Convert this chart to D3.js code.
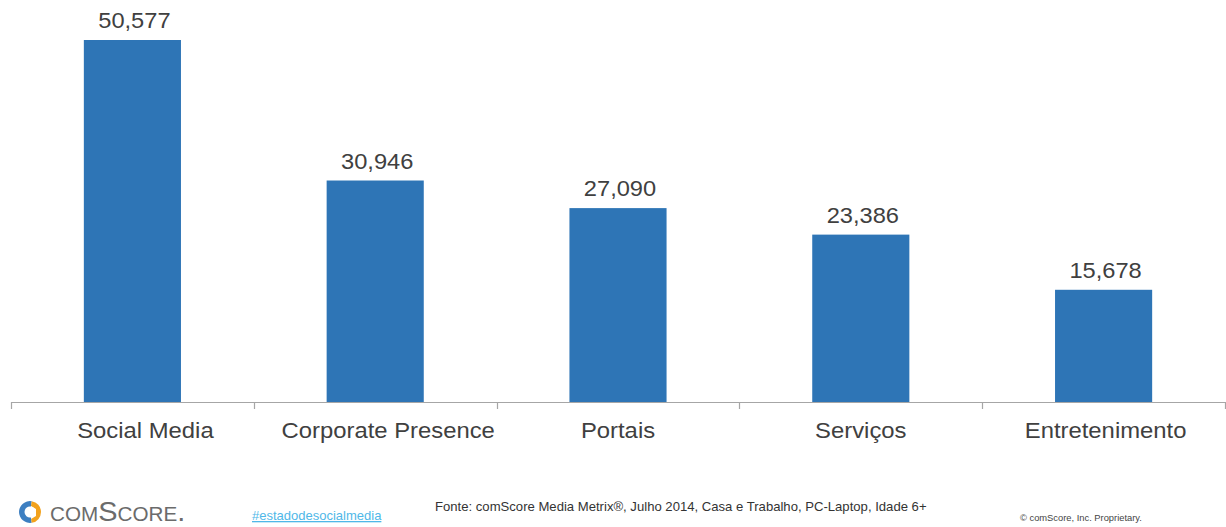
<!DOCTYPE html>
<html>
<head>
<meta charset="utf-8">
<script src="https://cdn.jsdelivr.net/npm/d3@7"></script>
<style>
  html, body { margin: 0; padding: 0; background: #fff; }
  svg { display: block; }
</style>
</head>
<body>
<svg id="chart" width="1226" height="527"></svg>
<script>
// Visitors by site category
const categories = ["Social Media", "Corporate Presence", "Portais", "Serviços", "Entretenimento"];
const values = [50577, 30946, 27090, 23386, 15678];

// horizontal nudge of each category label relative to its bar centre
const labelShift = [13, 13, 0, 0, 2];

const width = 1226, height = 527;
const svg = d3.select("#chart");
const FONT = "Liberation Sans, Arial, sans-serif";

const x = d3.scaleBand()
  .domain(categories)
  .range([11, 1225])
  .paddingInner(0.6)
  .paddingOuter(0.3);

const y = d3.scaleLinear()
  .domain([0, d3.max(values)])
  .range([402, 40]);

const fmt = d3.format(",");
const data = categories.map((c, i) => ({ c, v: values[i], shift: labelShift[i] }));

// bars
svg.append("g").selectAll("rect")
  .data(data)
  .join("rect")
  .attr("x", d => x(d.c))
  .attr("y", d => y(d.v))
  .attr("width", x.bandwidth())
  .attr("height", d => y(0) - y(d.v))
  .attr("fill", "#2e75b6");

// value labels (slightly wide lettering)
svg.append("g").selectAll("text")
  .data(data)
  .join("text")
  .attr("transform", d => `translate(${x(d.c) + x.bandwidth() / 2 + 2},${y(d.v) - 12}) scale(1.1,1)`)
  .attr("text-anchor", "middle")
  .attr("font-family", FONT)
  .attr("font-size", 21.5)
  .attr("fill", "#404040")
  .text(d => fmt(d.v));

// category axis with ticks at band boundaries
const step = x.step();
const bounds = [11, ...categories.map((c, i) => 11 + step * (i + 1))];
const axis = svg.append("g");
axis.append("line")
  .attr("x1", 11).attr("x2", 1225)
  .attr("y1", 402.5).attr("y2", 402.5)
  .attr("stroke", "#a6a6a6").attr("stroke-width", 1.2);
axis.selectAll("line.tick")
  .data(bounds)
  .join("line")
  .attr("class", "tick")
  .attr("x1", d => Math.round(d) + 0.5).attr("x2", d => Math.round(d) + 0.5)
  .attr("y1", 402).attr("y2", 409)
  .attr("stroke", "#a6a6a6").attr("stroke-width", 1.2);
axis.selectAll("text")
  .data(data)
  .join("text")
  .attr("transform", d => `translate(${x(d.c) + x.bandwidth() / 2 + d.shift},438) scale(1.06,1)`)
  .attr("text-anchor", "middle")
  .attr("font-family", FONT)
  .attr("font-size", 22.5)
  .attr("fill", "#404040")
  .text(d => d.c);

// footer: logo mark
const logo = svg.append("g").attr("transform", "translate(30,512)");
const arc = d3.arc().innerRadius(5.5).outerRadius(11);
logo.append("path")
  .attr("d", arc({ startAngle: Math.PI * 0.95, endAngle: Math.PI * 2.05 }))
  .attr("fill", "#3d7fc1");
logo.append("path")
  .attr("d", arc({ startAngle: Math.PI * 0.05, endAngle: Math.PI * 0.95 }))
  .attr("fill", "#f2a21d");
logo.append("path")
  .attr("d", "M1,-6 L6,-3 L6,4 L1,7 Z")
  .attr("fill", "#fff");
svg.append("text")
  .attr("transform", "translate(50,521) scale(1.07,1)")
  .attr("font-family", FONT)
  .attr("font-size", 27)
  .attr("font-variant", "small-caps")
  .attr("fill", "#6b6b6b")
  .text("comScore.");

// footer: hashtag
svg.append("text")
  .attr("x", 252).attr("y", 520)
  .attr("font-family", FONT)
  .attr("font-size", 13)
  .attr("fill", "#4fb8e8")
  .attr("text-decoration", "underline")
  .text("#estadodesocialmedia");

// footer: source
svg.append("text")
  .attr("transform", "translate(435,511) scale(1.05,1)")
  .attr("font-family", FONT)
  .attr("font-size", 12.5)
  .attr("fill", "#333")
  .text("Fonte: comScore Media Metrix®, Julho 2014, Casa e Trabalho, PC-Laptop, Idade 6+");

// footer: copyright
svg.append("text")
  .attr("transform", "translate(1020,521) scale(1.1,1)")
  .attr("font-family", FONT)
  .attr("font-size", 8.5)
  .attr("fill", "#444")
  .text("© comScore, Inc. Proprietary.");
</script>
</body>
</html>
